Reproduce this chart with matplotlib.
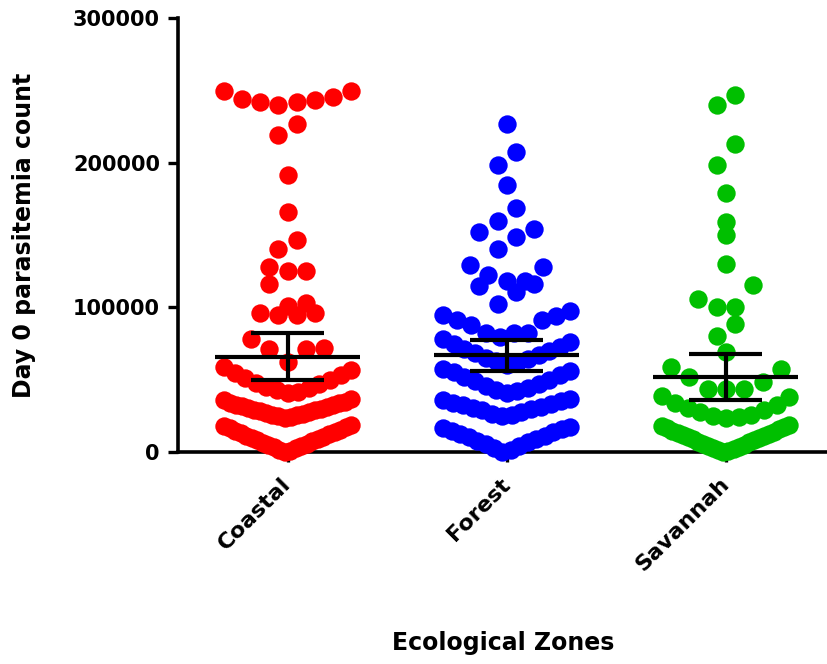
import numpy as np
import matplotlib.pyplot as plt

plt.rcParams['font.family'] = ['DejaVu Sans']
plt.rcParams['font.weight'] = 'bold'

# Day 0 parasitemia counts, per ecological zone
zones = ['Coastal', 'Forest', 'Savannah']
colors = ['#FF0000', '#0000FF', '#00BF00']

coastal = [249500, 245300, 243200, 241800, 239800, 241800, 243900, 249500,
           226600, 219000, 191400, 165800, 146500, 140300,
           127800, 125000, 125000, 116100,
           103000, 100900, 96000, 96000, 94700, 94700,
           78100, 71900, 71200, 71200, 62200, 58700,
           40800, 41500, 42700, 44100, 45200, 46900, 48000, 49800, 51300, 53000, 54600, 56400,
           23600, 24200, 24700, 25400, 25900, 26500, 27100, 27500, 28200, 28800, 29200,
           29900, 30500, 31000, 31700, 32300, 32800, 33600, 34100, 34900, 35800, 36400,
           300, 900, 1600, 2500, 3300, 4000, 4900, 5600, 6400, 7300, 8100, 8800,
           9600, 10500, 11200, 12100, 12800, 13800, 14500, 15300, 16300, 17000, 17900, 18700]

forest = [226600, 207300, 198300, 184500, 168600, 159600, 154100, 152000, 148600, 140300,
          129200, 127800, 122300, 118200, 118200, 116100, 114700, 110600,
          102300, 97500, 94700, 94000, 91200, 91200, 87800, 82200, 82200, 82200, 79500,
          60200, 61500, 62700, 64100, 65300, 66800, 68200, 69700, 71300, 72800, 74600, 76000, 77900,
          41000, 41900, 43000, 44400, 45900, 47200, 48900, 50100, 51900, 53400, 55200, 56300, 57700,
          24800, 25700, 26600, 27500, 28700, 29400, 30400, 31400, 32300, 33200, 34200, 35000, 35800, 36900,
          200, 1400, 2900, 4000, 5300, 6700, 7800, 9000, 10300, 11400, 12500, 13800, 14800, 15900, 16500, 17400]

savannah = [246700, 239800, 212800, 198300, 179000, 159000, 150000, 130000,
            115400, 105700, 100200, 100200, 88400, 80200, 69100,
            58700, 57400, 51800, 48400, 43500, 43500, 43500,
            23200, 23900, 25100, 25800, 27400, 28900, 30100, 32500, 33900, 38000, 38700,
            200, 700, 1500, 2200, 2900, 3700, 4300, 5100, 5800, 6600, 7200, 8000, 8700,
            9500, 10100, 10900, 11700, 12400, 13100, 13900, 14800, 15600, 16400, 17200, 18000, 18700]

groups = [coastal, forest, savannah]
means = [66000, 67000, 51800]
errs = [16000, 10700, 16200]


def swarm_offsets(vals, bin_h=19600, slot=0.0836, half_max=0.29):
    # Prism-like layout: bin by value, lowest in centre, spread outwards
    vals = np.asarray(vals, dtype=float)
    xs = np.zeros(len(vals))
    bins = np.floor(vals / bin_h).astype(int)
    for b in np.unique(bins):
        idx = np.where(bins == b)[0]
        idx = idx[np.argsort(vals[idx], kind='stable')]
        n = len(idx)
        seq = np.array([0] + [((k + 1) // 2) * (1 if k % 2 else -1) for k in range(1, n)], dtype=float)
        seq -= (seq.max() + seq.min()) / 2
        step = slot if n == 1 else min(slot, 2 * half_max / (n - 1))
        xs[idx] = seq * step
    return xs


fig = plt.figure(figsize=(8.28, 6.64), dpi=100)
ax = fig.add_axes([178 / 828, 212 / 664, 650 / 828, 434 / 664])

for i, (vals, c) in enumerate(zip(groups, colors)):
    xs = i + swarm_offsets(vals)
    ax.scatter(xs, vals, s=175, color=c, linewidths=0, zorder=3, clip_on=False)

# mean line with error bars
for i, (m, e) in enumerate(zip(means, errs)):
    ax.hlines(m, i - 0.331, i + 0.331, color='black', lw=3, zorder=4)
    ax.hlines([m - e, m + e], i - 0.167, i + 0.167, color='black', lw=3, zorder=4)
    ax.vlines(i, m - e, m + e, color='black', lw=3, zorder=4)

ax.set_xlim(-0.5, 2.466)
ax.set_ylim(0, 300000)
ax.set_yticks([0, 100000, 200000, 300000])
ax.set_yticklabels(['0', '100000', '200000', '300000'])
ax.set_xticks(range(3))
ax.set_xticklabels(zones, rotation=45, ha='right', va='center', rotation_mode='anchor')

for sp in ['top', 'right']:
    ax.spines[sp].set_visible(False)
for sp in ['left', 'bottom']:
    ax.spines[sp].set_linewidth(2.6)
    ax.spines[sp].set_zorder(2)

ax.tick_params(axis='y', length=7, width=2.4, labelsize=15, pad=6)
ax.tick_params(axis='x', length=7, width=2.4, labelsize=16, pad=14)

ax.set_ylabel('Day 0 parasitemia count', fontsize=17, fontweight='bold', va='center')
ax.set_xlabel('Ecological Zones', fontsize=17, fontweight='bold', va='center')
ax.yaxis.set_label_coords(-0.237, 0.5)
ax.xaxis.set_label_coords(0.5, -0.44)

fig.savefig('out.png', dpi=100)
